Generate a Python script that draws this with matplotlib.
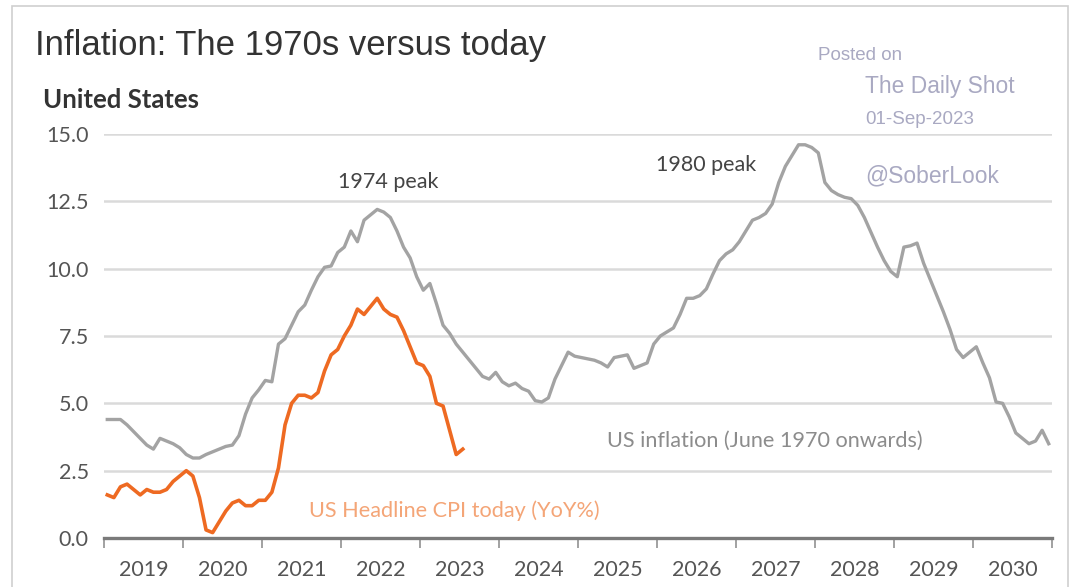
import numpy as np
import matplotlib.pyplot as plt
from matplotlib.patches import Rectangle

# US headline CPI YoY %, monthly from Jan 2019
cpi_today = [1.6, 1.5, 1.9, 2.0, 1.8, 1.6, 1.8, 1.7, 1.7, 1.8, 2.1, 2.3,
             2.5, 2.3, 1.5, 0.3, 0.2, 0.6, 1.0, 1.3, 1.4, 1.2, 1.2, 1.4,
             1.4, 1.7, 2.6, 4.2, 5.0, 5.3, 5.3, 5.2, 5.4, 6.2, 6.8, 7.0,
             7.5, 7.9, 8.5, 8.3, 8.6, 8.9, 8.5, 8.3, 8.2, 7.7, 7.1, 6.5,
             6.4, 6.0, 5.0, 4.9, 4.0, 3.1, 3.3]

# US inflation from the 1970s, shifted onto the same monthly grid
cpi_1970s = [4.4, 4.4, 4.4, 4.2, 3.95, 3.7, 3.45, 3.3, 3.7, 3.6, 3.5, 3.35,
             3.1, 2.97, 2.97, 3.1, 3.2, 3.3, 3.4, 3.45, 3.8, 4.6, 5.2, 5.5,
             5.85, 5.8, 7.2, 7.4, 7.9, 8.4, 8.65, 9.2, 9.7, 10.05, 10.1, 10.6,
             10.8, 11.4, 11.0, 11.8, 12.0, 12.2, 12.1, 11.9, 11.4, 10.8, 10.4, 9.7,
             9.2, 9.45, 8.7, 7.9, 7.6, 7.2, 6.9, 6.6, 6.3, 6.0, 5.9, 6.15,
             5.8, 5.65, 5.75, 5.55, 5.45, 5.1, 5.05, 5.2, 5.9, 6.4, 6.9, 6.75,
             6.7, 6.65, 6.6, 6.5, 6.35, 6.7, 6.75, 6.8, 6.3, 6.4, 6.5, 7.2,
             7.5, 7.65, 7.8, 8.3, 8.9, 8.9, 9.0, 9.25, 9.8, 10.3, 10.55, 10.7,
             11.0, 11.4, 11.8, 11.9, 12.05, 12.4, 13.2, 13.8, 14.2, 14.6, 14.6, 14.5,
             14.3, 13.2, 12.9, 12.75, 12.65, 12.6, 12.35, 11.9, 11.35, 10.8, 10.3, 9.9,
             9.7, 10.8, 10.85, 10.95, 10.2, 9.6, 9.0, 8.4, 7.75, 7.0, 6.7, 6.9,
             7.1, 6.5, 5.95, 5.05, 5.0, 4.5, 3.9, 3.7, 3.5, 3.6, 4.0, 3.5]

start_year = 2019
years = list(range(2019, 2031))
y_ticks = [0.0, 2.5, 5.0, 7.5, 10.0, 12.5, 15.0]

W, H = 1077, 587
fig = plt.figure(figsize=(W / 100, H / 100), dpi=100)


def fx(px):
    return px / W


def fy(py):
    return 1 - py / H


ax = fig.add_axes([fx(104), fy(538), fx(1052) - fx(104), fy(134) - fy(538)])

x_today = start_year + (np.arange(len(cpi_today)) + 0.5) / 12
x_70s = start_year + (np.arange(len(cpi_1970s)) + 0.5) / 12

for y in y_ticks[1:]:
    ax.axhline(y, color="#dadada", lw=1.8, zorder=1)

ax.plot(x_70s, cpi_1970s, color="#a3a3a3", lw=2.4, zorder=3, solid_joinstyle="round")
ax.plot(x_today, cpi_today, color="#ee6a22", lw=2.6, zorder=4, solid_joinstyle="round")

ax.set_xlim(start_year, years[-1] + 1)
ax.set_ylim(0, 15)

for s in ["top", "right", "left"]:
    ax.spines[s].set_visible(False)
ax.spines["bottom"].set_color("#7a7a7a")
ax.spines["bottom"].set_linewidth(2.4)
ax.spines["bottom"].set_zorder(5)

ax.set_xticks(list(range(2019, 2032)))
ax.set_xticklabels([])
ax.set_xticks([y + 0.5 for y in years], minor=True)
ax.set_xticklabels([str(y) for y in years], minor=True)
ax.tick_params(axis="x", which="major", length=7, width=1.3, color="#9a9a9a")
ax.tick_params(axis="x", which="minor", length=0, pad=16, labelsize=15.5, labelcolor="#555555")
for lab in ax.get_xticklabels(minor=True):
    lab.set_fontfamily("Lato")

ax.set_yticks(y_ticks)
ax.set_yticklabels([f"{v:.1f}" for v in y_ticks], fontfamily="Lato")
ax.tick_params(axis="y", length=0, pad=11, labelsize=15.5, labelcolor="#555555")

# annotations
ax.text(2022.6, 13.2, "1974 peak", ha="center", va="center", fontsize=15.5,
        color="#444444", fontfamily="Lato")
ax.text(2026.62, 13.85, "1980 peak", ha="center", va="center", fontsize=15.5,
        color="#444444", fontfamily="Lato")
ax.text(2027.37, 3.6, "US inflation (June 1970 onwards)", ha="center", va="center",
        fontsize=15.6, color="#8c8c8c", fontfamily="Lato")
ax.text(2023.43, 1.0, "US Headline CPI today (YoY%)", ha="center", va="center",
        fontsize=15.6, color="#f4a577", fontfamily="Lato")

fig.text(fx(35), fy(45), "Inflation: The 1970s versus today", ha="left", va="center",
         fontsize=25, color="#333333", fontfamily="Liberation Sans")
fig.text(fx(43), fy(100), "United States", ha="left", va="center", fontsize=18.5,
         fontweight="bold", color="#333333", fontfamily="Lato")

wm = "#a9a9c2"
fig.text(fx(818), fy(56), "Posted on", ha="left", va="center", fontsize=13.5,
         color=wm, fontfamily="Liberation Sans")
fig.text(fx(865), fy(86), "The Daily Shot", ha="left", va="center", fontsize=16.4,
         color=wm, fontfamily="Liberation Sans")
fig.text(fx(865), fy(120), "01-Sep-2023", ha="left", va="center", fontsize=13.5,
         color=wm, fontfamily="Liberation Sans")
fig.text(fx(865), fy(176), "@SoberLook", ha="left", va="center", fontsize=16.5,
         color=wm, fontfamily="Liberation Sans")

fig.patches.append(Rectangle((fx(12), -0.02), fx(1068) - fx(12), fy(6) + 0.02,
                             transform=fig.transFigure, fill=False,
                             edgecolor="#cfcfcf", lw=1.2))

fig.savefig("out.png", dpi=100)
